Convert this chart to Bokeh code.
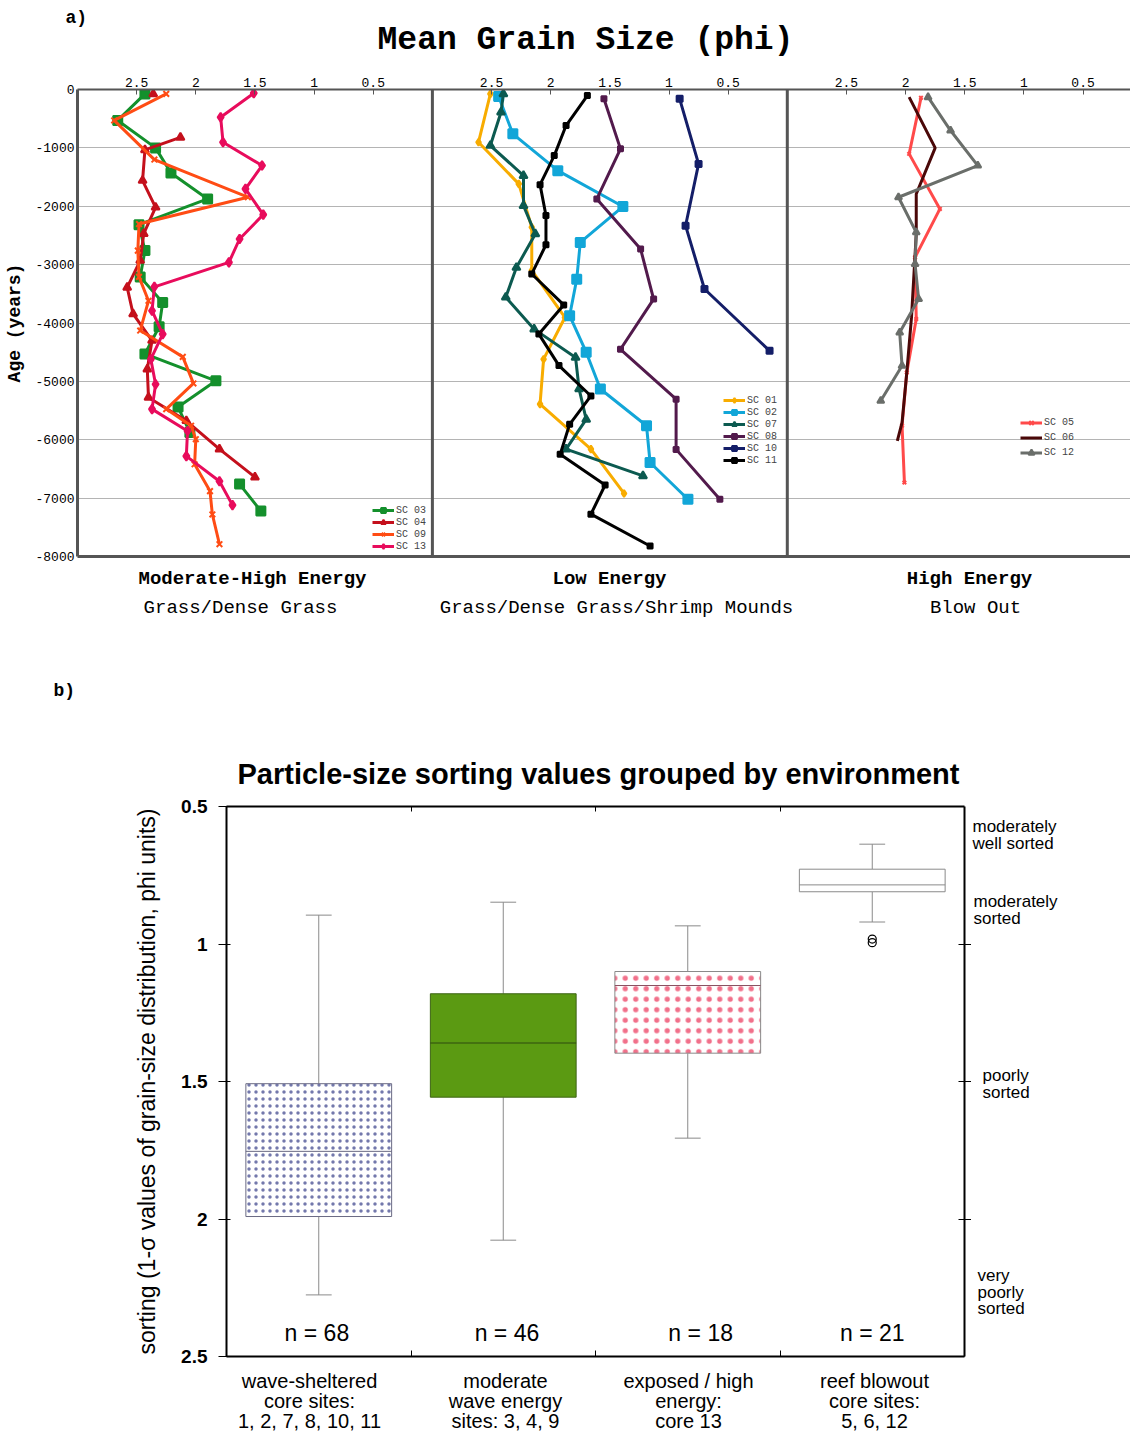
import math
from bokeh.plotting import figure
from bokeh.models import (Range1d, LinearAxis, FixedTicker, Legend, LegendItem, Span)
from bokeh.layouts import column, row
from bokeh.embed import file_html
from bokeh.resources import INLINE
from bokeh.core.properties import value

NaN = float("nan")
MONO = "Liberation Mono"
SANS = "Liberation Sans"

# ---------------- (a) Mean grain size (phi) versus age (years) ----------------
sc03_age = [-75, -530, -1000, -1430, -1875, -2315, -2760, -3210, -3650, -4065, -4530, -4990, -5440, -5875, NaN, -6760, -7220]
sc03_phi = [2.43, 2.66, 2.34, 2.21, 1.90, 2.48, 2.43, 2.47, 2.28, 2.31, 2.43, 1.83, 2.15, 2.05, NaN, 1.63, 1.45]

sc04_age = [-75, NaN, -820, -1035, -1560, -2018, -2470, -2930, -3390, -3845, -4300, -4790, -5275, -5675, -6160, -6640]
sc04_phi = [2.36, NaN, 2.13, 2.43, 2.45, 2.34, 2.44, 2.47, 2.58, 2.53, 2.37, 2.41, 2.40, 2.08, 1.80, 1.50]

sc09_age = [-75, -530, -1200, -1845, -2305, -2760, -3210, -3620, -4130, -4580, -5035, -5475, -5760, -5990, -6420, -6880, -7280, -7790]
sc09_phi = [2.25, 2.69, 2.35, 1.56, 2.48, 2.49, 2.48, 2.40, 2.47, 2.11, 2.02, 2.25, 2.04, 2.00, 2.01, 1.88, 1.86, 1.80]

sc13_age = [-63, -475, -903, -1303, -1703, -2144, -2561, -2962, -3380, -3790, -4190, -4620, -5050, -5475, -5850, -6280, -6710, -7120]
sc13_phi = [1.51, 1.79, 1.77, 1.44, 1.58, 1.43, 1.63, 1.72, 2.35, 2.37, 2.28, 2.38, 2.34, 2.37, 2.07, 2.08, 1.80, 1.69]

sc01_age = [-75, -903, -1617, -2360, -3100, -3905, -4620, -5390, -6160, -6920]
sc01_phi = [2.51, 2.61, 2.27, 2.16, 2.16, 1.88, 2.06, 2.09, 1.66, 1.38]

sc02_age = [-120, -760, -1390, -2005, -2620, -3250, -3875, -4500, -5130, -5760, -6390, -7020]
sc02_phi = [2.44, 2.32, 1.94, 1.39, 1.75, 1.78, 1.84, 1.70, 1.58, 1.19, 1.16, 0.84]

sc07_age = [-75, -390, -960, -1475, -1990, -2475, -3050, -3560, -4105, -4590, -5130, -5650, -6160, -6620]
sc07_phi = [2.40, 2.42, 2.51, 2.23, 2.23, 2.13, 2.29, 2.38, 2.14, 1.79, 1.76, 1.70, 1.87, 1.22]

sc08_age = [-160, -1017, -1875, -2733, -3590, -4450, -5305, -6165, -7020]
sc08_phi = [1.55, 1.41, 1.61, 1.24, 1.13, 1.41, 0.94, 0.94, 0.57]

sc10_age = [-160, -1275, -2333, -3418, -4476]
sc10_phi = [0.91, 0.75, 0.86, 0.70, 0.15]

sc11_age = [-103, -617, -1132, -1630, -2160, -2660, -3160, -3690, -4190, -4730, -5250, -5735, -6250, -6775, -7275, -7820]
sc11_phi = [1.69, 1.87, 1.97, 2.09, 2.04, 2.04, 2.16, 1.89, 2.10, 1.93, 1.66, 1.84, 1.92, 1.54, 1.66, 1.16]

sc05_age = [-143, -1103, -2046, -2875, -3932, -4848, -5760, -6733]
sc05_phi = [1.87, 1.97, 1.71, 1.92, 1.91, 1.99, 2.03, 2.01]

sc06_age = [-131, -1000, -1790, -2475, -3900, -4850, -5705, -6020]
sc06_phi = [1.97, 1.75, 1.91, 1.91, 1.95, 1.99, 2.03, 2.07]

sc12_age = [-131, -703, -1303, -1846, -2447, -2990, -3590, -4162, -4733, -5333]
sc12_phi = [1.81, 1.62, 1.39, 2.06, 1.91, 1.92, 1.89, 2.05, 2.03, 2.21]

phi_ticks = [2.5, 2, 1.5, 1, 0.5]
age_ticks = [0, -1000, -2000, -3000, -4000, -5000, -6000, -7000, -8000]

group_titles = ["Moderate-High Energy", "Low Energy", "High Energy"]
group_subtitles = ["Grass/Dense Grass", "Grass/Dense Grass/Shrimp Mounds", "Blow Out"]

# (label, panel, ages, phis, colour, marker, marker size)
series_a = [
    ("SC 03", 1, sc03_age, sc03_phi, "#14902c", "square", 9),
    ("SC 04", 1, sc04_age, sc04_phi, "#c4101c", "triangle", 8),
    ("SC 09", 1, sc09_age, sc09_phi, "#ff4c14", "x", 8),
    ("SC 13", 1, sc13_age, sc13_phi, "#e80c5c", "diamond", 9),
    ("SC 01", 2, sc01_age, sc01_phi, "#f8ac00", "diamond", 7),
    ("SC 02", 2, sc02_age, sc02_phi, "#12a6d8", "square", 9),
    ("SC 07", 2, sc07_age, sc07_phi, "#0c5a50", "triangle", 8),
    ("SC 08", 2, sc08_age, sc08_phi, "#521a4c", "square", 5),
    ("SC 10", 2, sc10_age, sc10_phi, "#141e68", "square", 6),
    ("SC 11", 2, sc11_age, sc11_phi, "#000000", "square", 5),
    ("SC 05", 3, sc05_age, sc05_phi, "#ff4a4a", "x", 5),
    ("SC 06", 3, sc06_age, sc06_phi, "#4a0808", None, 0),
    ("SC 12", 3, sc12_age, sc12_phi, "#6a6e6a", "triangle", 7),
]

# ---------------- (b) sorting box plots ----------------
cat_lines = [["wave-sheltered", "core sites:", "1, 2, 7, 8, 10, 11"],
             ["moderate", "wave energy", "sites: 3, 4, 9"],
             ["exposed / high", "energy:", "core 13"],
             ["reef blowout", "core sites:", "5, 6, 12"]]
n_counts = [68, 46, 18, 21]
whisk_lo = [0.895, 0.848, 0.934, 0.637]
q_lo = [1.508, 1.181, 1.100, 0.728]
medians = [1.754, 1.360, 1.151, 0.785]
q_hi = [1.991, 1.557, 1.397, 0.810]
whisk_hi = [2.276, 2.077, 1.706, 0.920]
outlier_cat = [3, 3]
outlier_val = [0.982, 0.995]
sort_ticks = [0.5, 1, 1.5, 2, 2.5]
class_labels = [["moderately", "well sorted"], ["moderately", "sorted"],
                ["poorly", "sorted"], ["very", "poorly", "sorted"]]

PAGE_W = 1130


def text_fig(w, h):
    f = figure(width=w, height=h, x_range=Range1d(0, w), y_range=Range1d(h, 0),
               x_axis_location=None, y_axis_location=None, output_backend="svg",
               toolbar_location=None, min_border=0, frame_align=False)
    f.min_border_left = f.min_border_right = f.min_border_top = f.min_border_bottom = 0
    f.grid.visible = False
    f.outline_line_color = None
    f.background_fill_color = "white"
    return f


def put(f, xs, ys, texts, size, font, bold=False, align="center", color="black"):
    f.text(xs, ys, text=texts, text_font=value(font), text_font_size=size,
           text_font_style="bold" if bold else "normal", text_align=align,
           text_baseline="middle", text_color=color)


# ---- header (page y 0..60)
header = text_fig(PAGE_W, 60)
put(header, [65], [17], ["a)"], "18px", MONO, bold=True, align="left")
put(header, [585], [40], ["Mean Grain Size (phi)"], "33px", MONO, bold=True)

# ---- panel a (page y 60..566), frame x 77..1130, y 89..556
PX_PER_PHI = 118.3
FRAME_W = PAGE_W - 77
W = FRAME_W / PX_PER_PHI

top = figure(width=PAGE_W, height=506, x_range=Range1d(0, W), y_range=Range1d(-8000, 0),
             x_axis_location="above", output_backend="svg", toolbar_location=None,
             min_border_left=77, min_border_right=0, min_border_top=29, min_border_bottom=10,
             frame_align=False)
top.outline_line_color = None
top.background_fill_color = "white"
top.extra_x_ranges = {"p1": Range1d(3, 3 - W), "p2": Range1d(6, 6 - W), "p3": Range1d(9, 9 - W)}

tick_pos, overrides = [], {}
for k in range(3):
    for t in phi_ticks:
        g = 3 * k + 3 - t
        if g <= W:
            tick_pos.append(g)
            overrides[g] = f"{t:g}"
xa = top.xaxis[0]
xa.ticker = FixedTicker(ticks=tick_pos)
xa.major_label_overrides = overrides
xa.major_tick_in = 5
xa.major_tick_out = 0
xa.minor_tick_in = 0
xa.minor_tick_out = 0
xa.axis_line_color = "#555555"
xa.axis_line_width = 2
xa.major_tick_line_color = "#555555"
xa.major_label_text_font = MONO
xa.major_label_text_font_size = "13px"
xa.major_label_text_color = "black"
xa.major_label_standoff = 3

ya = top.yaxis[0]
ya.ticker = FixedTicker(ticks=age_ticks)
ya.major_label_overrides = {t: str(t) for t in age_ticks}
ya.major_tick_in = 0
ya.major_tick_out = 0
ya.minor_tick_in = 0
ya.minor_tick_out = 0
ya.axis_line_color = "#555555"
ya.axis_line_width = 3
ya.major_label_text_font = MONO
ya.major_label_text_font_size = "13px"
ya.major_label_text_color = "black"
ya.major_label_standoff = 3
ya.axis_label = "Age (years)"
ya.axis_label_text_font = MONO
ya.axis_label_text_font_style = "bold"
ya.axis_label_text_font_size = "18px"
ya.axis_label_text_color = "black"
ya.axis_label_standoff = 7

top.xgrid.visible = False
top.ygrid.grid_line_color = "#b4b4b4"
top.ygrid.grid_line_width = 1

ba = LinearAxis(ticker=FixedTicker(ticks=[]), axis_line_color="#555555", axis_line_width=3,
                major_label_standoff=0, major_tick_out=0, major_tick_in=0)
top.add_layout(ba, "below")

for loc in (3, 6):
    top.add_layout(Span(location=loc, dimension="height", line_color="#555555", line_width=3))

legend_items = {1: [], 2: [], 3: []}
for name, panel, ages, phis, color, marker, size in series_a:
    rn = f"p{panel}"
    rends = [top.line(phis, ages, x_range_name=rn, line_color=color, line_width=3)]
    if marker:
        rends.append(top.scatter(phis, ages, x_range_name=rn, marker=marker, size=size,
                                 fill_color=color, line_color=color, line_width=2))
    legend_items[panel].append(LegendItem(label=name, renderers=rends))

legend_spec = {1: (295, 4, 12), 2: (646, 90, 12), 3: (943, 96, 15)}
for panel, (vx, vy, lh) in legend_spec.items():
    leg = Legend(items=legend_items[panel], location=(vx, vy), orientation="vertical",
                 label_text_font=MONO, label_text_font_size="10px", label_height=lh,
                 glyph_height=lh, glyph_width=22, spacing=0, padding=0, margin=0,
                 label_standoff=2, background_fill_alpha=0, border_line_color=None)
    top.add_layout(leg)

# ---- middle text band (page y 566..794)
mid = text_fig(PAGE_W, 228)
put(mid, [252, 609, 969], [12] * 3, group_titles, "19px", MONO, bold=True)
put(mid, [240, 616, 975], [41] * 3, group_subtitles, "19px", MONO)
put(mid, [53], [124], ["b)"], "18px", MONO, bold=True, align="left")
put(mid, [598], [207], ["Particle-size sorting values grouped by environment"], "29px", SANS,
    bold=True)

# ---- panel b (page y 794..1368), frame x 226..964, y 806..1356
bot = figure(width=971, height=574, x_range=Range1d(0, 4), y_range=Range1d(2.5, 0.5),
             output_backend="svg", toolbar_location=None,
             min_border_left=226, min_border_right=7, min_border_top=12, min_border_bottom=12,
             frame_align=False)
bot.outline_line_color = None
bot.xgrid.visible = False
bot.ygrid.visible = False

la = bot.yaxis[0]
la.ticker = FixedTicker(ticks=sort_ticks)
la.major_label_overrides = {t: f"{t:g}" for t in sort_ticks}
la.major_label_text_font = SANS
la.major_label_text_font_style = "bold"
la.major_label_text_font_size = "19px"
la.major_label_text_color = "black"
la.major_label_standoff = 11
la.major_tick_out = 8
la.major_tick_in = 4
la.minor_tick_in = 0
la.minor_tick_out = 0
la.axis_line_width = 2
la.axis_line_color = "black"
la.axis_label = "sorting (1-\u03c3 values of grain-size distribution, phi units)"
la.axis_label_text_font = SANS
la.axis_label_text_font_size = "23px"
la.axis_label_text_font_style = "normal"
la.axis_label_text_color = "black"
la.axis_label_standoff = 18


def tick_only_axis(ax, ticks, t_in, t_out):
    ax.ticker = FixedTicker(ticks=ticks)
    ax.major_label_overrides = {t: "" for t in ticks}
    ax.major_label_text_font_size = "0px"
    ax.major_label_text_color = None
    ax.major_label_standoff = 0
    ax.major_tick_in = t_in
    ax.major_tick_out = t_out
    ax.minor_tick_in = 0
    ax.minor_tick_out = 0
    ax.axis_line_width = 2
    ax.axis_line_color = "black"
    ax.major_tick_line_color = "black"


tick_only_axis(bot.xaxis[0], [0, 1, 2, 3, 4], 6, 0)
ab = LinearAxis()
tick_only_axis(ab, [1, 2, 3], 5, 0)
bot.add_layout(ab, "above")
ar = LinearAxis()
tick_only_axis(ar, [1, 1.5, 2], 6, 7)
bot.add_layout(ar, "right")

box_fill = ["white", "#5b9a12", "white", "white"]
box_line = ["#6a6a84", "#3d6414", "#8a8a8a", "#8a8a8a"]
box_hatch = ["dot", None, "dot", None]
hatch_col = ["#283080", None, "#e8103c", None]
hatch_sc = [7, 1, 10.5, 1]
hatch_al = [0.65, 1, 0.6, 1]
med_col = ["#6a6a84", "#2e4a0e", "#8a5060", "#8a8a8a"]

centers = [i + 0.5 for i in range(4)]
half_box = 0.395
half_cap = 0.07
bot.segment(centers, whisk_lo, centers, q_lo, line_color="#8a8a8a", line_width=1)
bot.segment(centers, q_hi, centers, whisk_hi, line_color="#8a8a8a", line_width=1)
bot.segment([c - half_cap for c in centers], whisk_lo, [c + half_cap for c in centers], whisk_lo,
            line_color="#8a8a8a", line_width=1)
bot.segment([c - half_cap for c in centers], whisk_hi, [c + half_cap for c in centers], whisk_hi,
            line_color="#8a8a8a", line_width=1)
for i, c in enumerate(centers):
    kw = dict(fill_color=box_fill[i], line_color=box_line[i], line_width=1)
    if box_hatch[i]:
        kw.update(hatch_pattern=box_hatch[i], hatch_color=hatch_col[i], hatch_scale=hatch_sc[i],
                  hatch_alpha=hatch_al[i], hatch_weight=0.5)
    bot.quad(left=[c - half_box], right=[c + half_box], top=[q_lo[i]], bottom=[q_hi[i]], **kw)
    bot.segment([c - half_box], [medians[i]], [c + half_box], [medians[i]],
                line_color=med_col[i], line_width=1)
bot.scatter([centers[i] for i in outlier_cat], outlier_val, marker="circle", size=8,
            fill_color=None, line_color="black", line_width=1.2)

n_x = [0.49, 1.52, 2.57, 3.50]
bot.text(n_x, [2.414] * 4, text=[f"n = {n}" for n in n_counts], text_font=value(SANS),
         text_font_size="23px", text_align="center", text_baseline="middle", text_color="black")

# ---- right-hand sorting classes (page x 971..1130, y 794..1368)
side = text_fig(PAGE_W - 971, 574)
class_x = [1, 2, 11, 6]
class_y = [32, 107, 281, 481]
for lines, x0, y0 in zip(class_labels, class_x, class_y):
    put(side, [x0] * len(lines), [y0 + 16.5 * j for j in range(len(lines))], lines, "17px", SANS,
        align="left")

# ---- category labels (page y 1368..1432)
foot = text_fig(PAGE_W, 64)
cat_cx = [309, 505, 688, 874]
for cx, lines in zip(cat_cx, cat_lines):
    put(foot, [cx] * len(lines), [12 + 20 * j for j in range(len(lines))], lines, "20px", SANS)

layout = column(header, top, mid, row(bot, side, spacing=0), foot, spacing=0)
open("out.html", "w").write(file_html(layout, INLINE))
